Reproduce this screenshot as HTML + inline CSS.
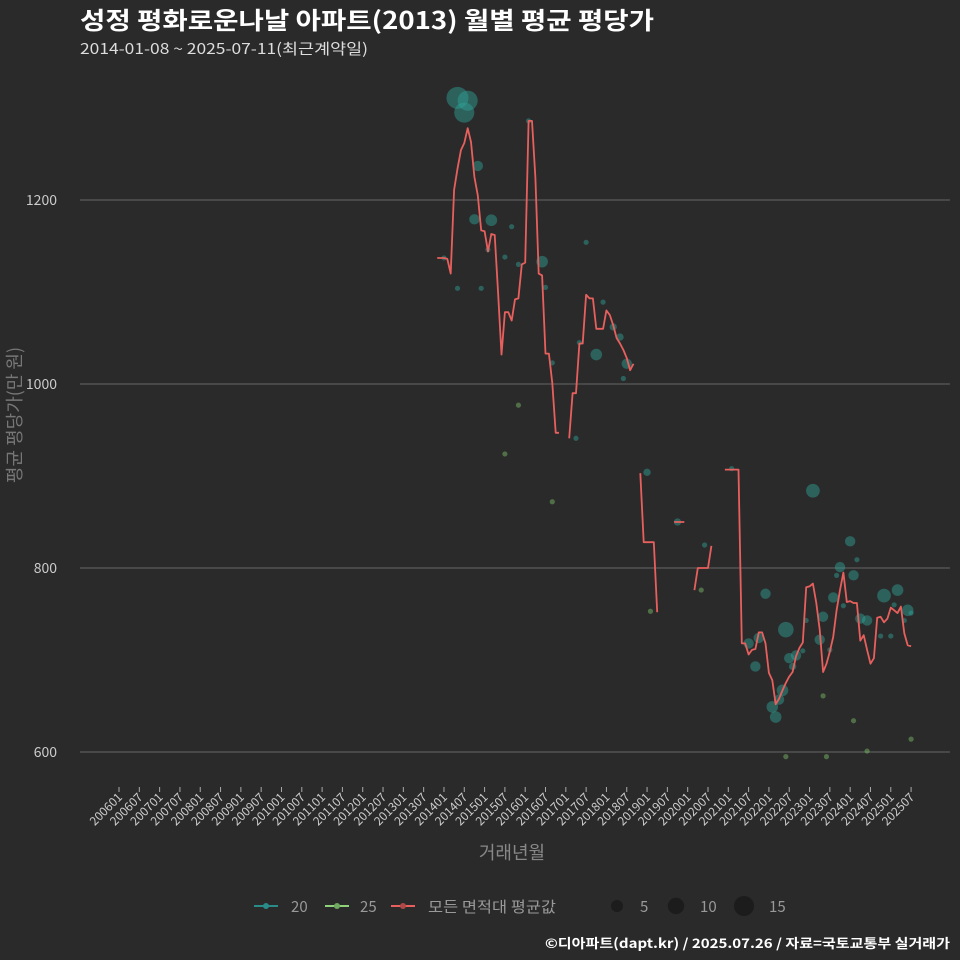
<!DOCTYPE html>
<html><head><meta charset="utf-8">
<style>
html,body{margin:0;padding:0;background:#2a2a2b;}
svg{display:block;font-family:"Liberation Sans","Noto Sans CJK KR",sans-serif;}
.kr{font-family:"Noto Sans CJK KR","Liberation Sans",sans-serif;}
</style></head>
<body>
<svg id="chart" width="960" height="960" viewBox="0 0 960 960">
<rect width="960" height="960" fill="#2a2a2b"/>
<text class="kr" x="80" y="29" font-size="24" font-weight="bold" fill="#ffffff" textLength="574" lengthAdjust="spacingAndGlyphs">성정 평화로운나날 아파트(2013) 월별 평균 평당가</text>
<text class="kr" x="80" y="54" font-size="15" fill="#dddddd" textLength="288" lengthAdjust="spacingAndGlyphs">2014-01-08 ~ 2025-07-11(최근계약일)</text>
<g id="grid"></g>
<g id="yaxis"></g>
<g id="xaxis"></g>
<g id="points"></g>
<g id="line"></g>
<text class="kr" transform="translate(21,415) rotate(-90)" text-anchor="middle" font-size="18" fill="#777">평균 평당가(만 원)</text>
<text class="kr" x="512" y="859" text-anchor="middle" font-size="18" fill="#888">거래년월</text>
<g>
 <g>
  <line x1="254" y1="906" x2="278" y2="906" stroke="#2a8c89" stroke-width="2"/><circle cx="266" cy="906" r="3" fill="#2a8c89"/>
  <text class="kr" x="291" y="912" font-size="15" fill="#999">20</text></g>
 <g>
  <line x1="325" y1="906" x2="349" y2="906" stroke="#8fd17b" stroke-width="2"/><circle cx="337" cy="906" r="3" fill="#6fa85f"/>
  <text class="kr" x="360" y="912" font-size="15" fill="#999">25</text></g>
 <g>
  <line x1="391" y1="906" x2="415" y2="906" stroke="#e8605d" stroke-width="2"/><circle cx="403" cy="906" r="3" fill="#b04848"/>
  <text class="kr" x="428" y="912" font-size="15" fill="#999" textLength="128" lengthAdjust="spacingAndGlyphs">모든 면적대 평균값</text></g>
 <g>
  <circle cx="617" cy="906" r="6" fill="#1c1c1c"/><text class="kr" x="640" y="912" font-size="15" fill="#999">5</text>
  <circle cx="676" cy="906" r="8.2" fill="#1c1c1c"/><text class="kr" x="700" y="912" font-size="15" fill="#999">10</text>
  <circle cx="744" cy="906" r="10" fill="#1c1c1c"/><text class="kr" x="769" y="912" font-size="15" fill="#999">15</text>
 </g>
</g>
<text class="kr" x="950" y="948" text-anchor="end" font-size="13" font-weight="bold" fill="#ffffff" textLength="405" lengthAdjust="spacingAndGlyphs">©디아파트(dapt.kr) / 2025.07.26 / 자료=국토교통부 실거래가</text>
</svg>
<script>
// ---- data ----
const yTicks = [600, 800, 1000, 1200];
const lineStart = "201311";
const lineValues = [1137,1137,1137,1136,1120,1211,1234,1254,1262,1278,1263,1225,1205,1167,1166,1144,1163,1162,1099,1032,1078,1078,1069,1092,1093,1130,1132,1286,1286,1224,1120,1118,1033,1033,1001,947,947,null,null,941,990,990,1044,1044,1097,1093,1093,1060,1060,1060,1080,1075,1064,1050,1044,1037,1028,1015,1022,
null,903,828,828,828,828,752,null,null,null,null,850,850,850,850,null,null,776,800,800,800,800,824,null,null,null,907,907,907,907,907,
718,718,706,711,712,730,730,718,686,678,652,658,667,675,682,687,704,713,719,779,780,783,762,733,687,696,709,725,754,776,795,763,764,762,762,721,727,711,696,702,746,747,741,745,757,754,751,758,729,716,715];
const t20Months = ["201405","201408","201407","201411","201410","201503","201509","201405","201412","201606","201607","201609","201707","201710","201705","201712","201803","201805","201807","201806","201704","201602","201401","201507","201511","201502","201901","201910","202006","202102","202302","202401","202403","202310","202309","202402","202112","202308","202311","202411","202503","202502","202506","202507","202305","202404","202406","202212","202206","202107","202110","202304","202410","202501","202505","202109","202211","202209","202207","202208","202307","202205","202204","202202","202203"];
const t20Values = [1311,1308,1295,1237,1179,1178,1171,1104,1104,1133,1105,1023,1154,1032,1045,1089,1062,1051,1022,1006,941,1286,1137,1138,1130,1146,904,850,825,908,884,829,809,801,792,792,772,768,759,770,776,760,754,751,747,745,743,743,733,718,724,722,726,726,743,693,710,705,702,693,711,667,657,649,638];
const t20Counts = [18,15,15,4,4,5,1,1,1,5,1,1,1,5,1,1,2,2,4,1,1,1,1,1,1,1,2,2,1,1,7,4,1,4,1,4,4,4,1,7,5,1,5,1,4,4,4,1,9,4,4,4,1,1,1,4,1,4,4,2,1,5,4,5,5];
const t25Months = ["201511","201507","201609","201902","202005","202206","202305","202306","202402","202406","202507"];
const t25Values = [977,924,872,753,776,595,661,595,634,601,614];
const t25Counts = [1,1,1,1,1,1,1,1,1,1,1];
const xTickLabels = [];
for (let y = 2006; y <= 2025; y++) { xTickLabels.push(y + "01"); xTickLabels.push(y + "07"); }

// ---- scales ----
const NS = "http://www.w3.org/2000/svg";
function monthIndex(s){ return (parseInt(s.slice(0,4))-2006)*12 + parseInt(s.slice(4,6)) - 1; }
function xScale(m){ return 119 + m * 3.385; }
function yScale(v){ return 752 - (v - 600) * 0.92; }
function rScale(c){ return 2.6 * Math.sqrt(c); }
function mk(tag, attrs, parent){ const e=document.createElementNS(NS,tag); for(const k in attrs) e.setAttribute(k,attrs[k]); parent.appendChild(e); return e; }

const grid = document.getElementById("grid"), yaxis = document.getElementById("yaxis"), xaxis = document.getElementById("xaxis");
yTicks.forEach(v => {
  const l = mk("line",{x1:80,x2:950,y1:yScale(v),y2:yScale(v),stroke:"#666","stroke-width":1},grid);
  
  
  const t = mk("text",{x:57,y:yScale(v)+5,"text-anchor":"end","font-size":14,fill:"#ccc","class":"kr"},yaxis);
  t.textContent = v;
  
  
});
xTickLabels.forEach(s => {
  const m = monthIndex(s); if (m > 234) return;
  const x = xScale(m);
  const tk = mk("line",{x1:x,x2:x,y1:787,y2:792,stroke:"#aaa","stroke-width":1},xaxis);
  
  
  const t = mk("text",{transform:`translate(${x+4},${798}) rotate(-45)`,"text-anchor":"end","font-size":12,fill:"#ccc","class":"kr"},xaxis);
  t.textContent = s;
  
  
});

const pts = document.getElementById("points");
function drawPts(months, vals, counts, color, name){
  months.forEach((s,i) => {
    const c = mk("circle",{cx:xScale(monthIndex(s)),cy:yScale(vals[i]),r:rScale(counts[i]),fill:color,"fill-opacity":0.45},pts);
    
    
  });
}
drawPts(t20Months, t20Values, t20Counts, "#2fa39a", "point-20");
drawPts(t25Months, t25Values, t25Counts, "#7fc46a", "point-25");

const lg = document.getElementById("line");
const start = monthIndex(lineStart);
let d = "", pen = false;
lineValues.forEach((v,i) => {
  if (v === null) { pen = false; return; }
  d += (pen ? "L" : "M") + xScale(start+i).toFixed(1) + " " + yScale(v).toFixed(1) + " ";
  pen = true;
});
const p = mk("path",{d:d,fill:"none",stroke:"#e8605d","stroke-width":1.8,"stroke-linejoin":"round"},lg);


</script>
</body></html>
